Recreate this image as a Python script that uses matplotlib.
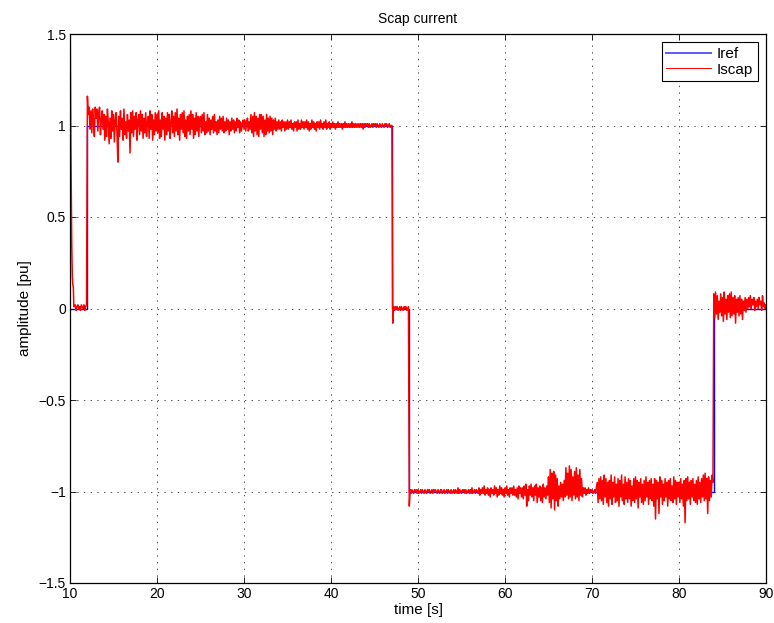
import numpy as np
import matplotlib
matplotlib.use("Agg")
import matplotlib.pyplot as plt

plt.rcParams['font.family'] = ['Liberation Sans', 'DejaVu Sans']

# Reference current: step times and levels (pu)
iref_times = [10.0, 12.0, 47.0, 49.0, 84.0, 90.0]
iref_levels = [0.0, 1.0, 0.0, -1.0, 0.0]

# Start-up transient of the supercapacitor current
start_t = [10.0, 10.0, 10.03, 10.1, 10.2, 10.27, 10.32, 10.38, 10.44]
start_v = [-0.12, 1.6, 1.5, 0.9, 0.35, 0.17, 0.13, 0.12, 0.01]

SAMPLE_DT = 0.1

# Measured deviation from the reference level, in hundredths of pu,
# sampled every 0.1 s starting at each segment's start time.
dev_idle = [1, 2, -1, 1, 2, 0, 1, -1, 2, 1, 0, 2, -1, 1, 2]          # from 10.5 s
dev_charge = [                                                         # from 12.0 s
    16, 6, 10, -2, 8, -4, 9, 2, -6, 10,
    4, 9, -3, 7, 10, -5, 3, 8, -2, 6,
    -8, 5, -6, 9, 2, -10, 4, -7, 8, -3,
    6, -9, 3, 7, -4, -20, 5, -6, 8, -2,
    4, -8, 9, -5, 2, -7, 6, -3, 3, -15,
    7, -4, 8, -6, 5, -2, 7, -8, 3, 6,
    -5, 8, -3, 6, -7, 4, -4, 7, -6, 2,
    5, -7, 8, -2, 6, -8, 3, -5, 7, -3,
    6, -4, 8, -7, 3, -6, 7, -2, 5, -8,
    4, -5, 7, -3, 6, -7, 2, 8, -4, 5,
    -6, 7, -3, 9, -5, 4, -8, 6, -2, 7,
    -4, 8, -6, 3, -7, 5, -3, 6, -5, 8,
    -2, 6, -7, 4, -5, 7, -3, 5, -6, 3,
    5, -4, 6, -3, 7, -5, 2, -4, 6, -3,
    4, -5, 3, -2, 5, -4, 6, -3, 2, -5,
    3, -4, 5, -2, 4, -3, 5, -4, 2, -3,
    4, -2, 3, -5, 2, -3, 4, -2, 3, -4,
    2, -3, 4, -1, 3, -4, 2, -3, 1, 3,
    -2, 3, -3, 2, 4, -3, 2, -2, 6, -4,
    5, -6, 7, -3, 5, -5, 4, -6, 6, -2,
    6, -4, 5, -6, 3, -5, 6, -3, 4, -4,
    5, -3, 4, -5, 3, -2, 4, -3, 2, -2,
    3, -2, 2, -3, 3, -1, 2, -3, 2, -2,
    3, -2, 2, -1, 3, -2, 1, -3, 2, -1,
    2, -3, 3, -2, 1, -2, 3, -1, 2, -2,
    2, -1, 3, -2, 2, -3, 1, -2, 3, -1,
    2, -2, 1, -3, 2, -1, 2, -2, 3, -1,
    1, -2, 2, -1, 3, -2, 1, -1, 2, -2,
    1, -1, 2, -1, 1, -2, 1, -1, 2, -1,
    1, -1, 1, -2, 1, -1, 2, -1, 1, -1,
    1, -1, 1, -1, 2, -1, 1, -1, 1, -1,
    1, -1, 1, -1, 1, -1, 1, -2, 1, -1,
    1, 0, 1, -1, 1, -1, 0, 1, -1, 1,
    0, 1, -1, 1, 0, -1, 1, 0, -1, 1,
    0, -1, 1, 0, 1, -1, 0, 1, -1, 0,
    0,
]
dev_rest = [-8, 1, -1, 1, 0, 1, -1, 0, 1, -1,                         # from 47.1 s
            1, 0, -1, 1, 0, 1, -1, 0, 1]
dev_discharge = [                                                      # from 49.0 s
    -8, 1, -1, 1, 0, -1, 1, 0, 1, -1,
    1, -1, 0, 1, -1, 1, 0, -1, 1, 0,
    -1, 1, 0, 1, -1, 0, 1, -1, 1, 0,
    1, 0, -1, 1, 0, -1, 1, 1, -1, 0,
    1, -1, 0, 1, -1, 1, 0, -1, 1, -1,
    0, 1, -1, 1, 0, -1, 2, -1, 1, 0,
    -1, 1, 0, 1, -1, 1, -1, 0, 1, -1,
    1, -1, 2, -1, 0, 1, -1, 1, 0, -1,
    2, -2, 1, -1, 2, -1, 3, -2, 1, -1,
    2, -2, 1, -3, 2, -1, 1, -2, 3, -1,
    2, -3, 1, -2, 3, -1, 2, -2, 1, -3,
    2, -1, 3, -2, 1, -3, 2, -1, 2, -2,
    3, -2, 1, -3, 2, -4, 3, -1, 2, -3,
    2, -4, 3, -2, 4, -8, 1, -5, 3, -2,
    4, -3, 2, -5, 3, -2, 4, -6, 2, -3,
    3, -5, 2, -6, 4, -3, 2, -4, 3, -2,
    8, -6, 12, -9, 10, -4, 11, -10, 9, -5,
    7, -8, 3, -4, 5, -3, 4, -5, 6, -3,
    13, -2, 10, -4, 14, -3, 12, -5, 8, -2,
    11, -4, 13, -3, 9, -5, 12, -2, 7, -3,
    2, -1, 2, -2, 1, -1, 2, -1, 1, 0,
    1, -1, 0, 1, -1, 2, 5, -6, 7, -4,
    8, -5, 6, -7, 9, -3, 7, -6, 5, -8,
    6, -4, 9, -7, 5, -3, 8, -6, 4, -5,
    7, -8, 6, -3, 9, -5, 4, -7, 8, -4,
    5, -6, 7, -4, 6, -8, 3, -5, 7, -6,
    8, -4, 6, -9, 5, -3, 7, -6, 4, -7,
    6, -5, 8, -3, 5, -7, 6, -4, 7, -5,
    4, -8, 7, -15, 6, -4, 5, -12, 8, -3,
    6, -7, 4, -5, 7, -3, 5, -8, 6, -4,
    7, -5, 3, -6, 8, -4, 6, -7, 5, -3,
    5, -6, 7, -4, 4, -8, 6, -17, 7, -5,
    8, -4, 5, -7, 6, -3, 7, -5, 4, -6,
    6, -7, 8, -4, 5, -6, 7, -3, 9, -5,
    10, -4, 7, -12, 8, -5, 6, -3, 9, 5,
]
dev_final = [                                                          # from 84.0 s
    8, -5, 9, -3, 7, -6, 4, -2, 8, -4,
    6, -7, 9, -3, 5, -6, 7, -2, 8, -5,
    9, -4, 6, -3, 7, -8, 5, -2, 6, -4,
    7, -3, 5, -6, 4, -1, 6, -2, 5, 0,
    6, 1, 7, 0, 5, 2, 6, -1, 4, 1,
    5, 0, 6, 2, 4, -1, 7, 1, 3, 0,
    2,
]

segments = [
    (10.5, 0.0, dev_idle),
    (12.0, 1.0, dev_charge),
    (47.1, 0.0, dev_rest),
    (49.0, -1.0, dev_discharge),
    (84.0, 0.0, dev_final),
]

t_parts = [np.array(start_t)]
v_parts = [np.array(start_v)]
for t0, level, dev in segments:
    n = len(dev)
    t_parts.append(t0 + SAMPLE_DT * np.arange(n))
    v_parts.append(level + np.array(dev) / 100.0)
t_scap = np.concatenate(t_parts)
i_scap = np.concatenate(v_parts)

# Reference as a staircase
t_ref = np.repeat(iref_times, 2)[1:-1]
i_ref = np.repeat(iref_levels, 2)

fig = plt.figure(figsize=(7.74, 6.23), dpi=100)
ax = fig.add_axes([70 / 774, 40 / 623, 696 / 774, 549 / 623])

ax.plot(t_ref, i_ref, color='#0000ff', lw=1.0, label='Iref')
ax.plot(t_scap, i_scap, color='#ff0000', lw=1.1, label='Iscap')

ax.set_xlim(10, 90)
ax.set_ylim(-1.5, 1.5)
ax.set_xticks(np.arange(10, 91, 10))
ax.set_yticks([-1.5, -1, -0.5, 0, 0.5, 1, 1.5])
ax.set_yticklabels(['\u22121.5', '\u22121', '\u22120.5', '0', '0.5', '1', '1.5'])

ax.tick_params(direction='in', length=4, width=0.6, top=True, right=True,
               labelsize=10, pad=3)
for s in ax.spines.values():
    s.set_linewidth(0.9)
    s.set_color('black')

ax.grid(True, color='0.3', linewidth=0.7, linestyle=(0, (1.4, 5.5)))
ax.set_axisbelow(True)

ax.set_title('Scap current', fontsize=10, pad=8)
ax.set_xlabel('time [s]', fontsize=11, labelpad=1)
ax.set_ylabel('amplitude [pu]', fontsize=11, labelpad=5)

leg = ax.legend(loc='upper right', fontsize=11, fancybox=False, framealpha=1,
                edgecolor='black', handlelength=2.9, borderaxespad=0.55,
                borderpad=0.3, labelspacing=0.1, handletextpad=0.4)
leg.get_frame().set_linewidth(0.8)
leg_ref, leg_scap = leg.get_lines()
leg_ref.set_color('#5a5aff')
leg_ref.set_linewidth(1.4)
leg_scap.set_linewidth(0.7)

fig.savefig('out.png', dpi=100, facecolor='white')
